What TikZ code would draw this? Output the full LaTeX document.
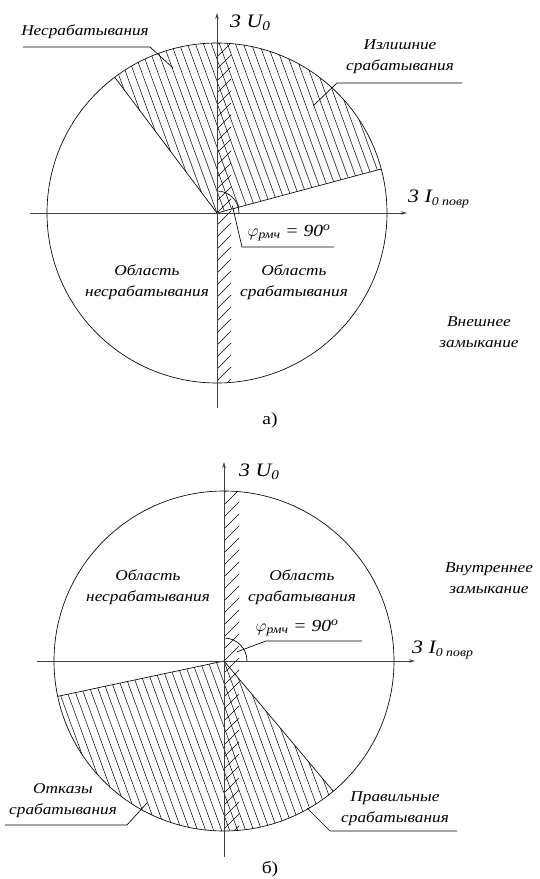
\documentclass[tikz,border=0pt]{standalone}
\usepackage{fontspec}
\setmainfont{Liberation Serif}[FakeStretch=1.15]
\usetikzlibrary{arrows.meta, positioning}

\begin{document}
\begin{tikzpicture}[
    x=1pt, y=1pt,
    axis/.style = {draw=black!75, line width=0.9pt, -{Stealth[length=6pt, width=3.5pt]}},
    ring/.style = {draw=black, line width=0.65pt},
    hatch/.style = {draw=black, line width=0.5pt},
    leader/.style = {draw=black, line width=0.65pt},
    lbl/.style = {font=\fontsize{15}{21}\selectfont\itshape, align=center, inner sep=0pt},
    axlbl/.style = {font=\fontsize{19}{21}\selectfont\itshape, anchor=west, inner sep=0pt},
    anglbl/.style = {font=\fontsize{17}{19}\selectfont\itshape, inner sep=0pt},
    caption/.style = {font=\fontsize{17}{19}\selectfont, inner sep=0pt}
]
\useasboundingbox (0,0) rectangle (540,879);

% Diagram a)
\coordinate (O1) at (217,666);

% hatched sector
\begin{scope}
  \clip (O1) -- ++(15:170) arc[start angle=15, end angle=127, radius=170] -- cycle;
  \foreach \k in {-8,...,24}
    \draw [hatch] (O1) ++(\k*8,0) ++(110:220) -- ++(-70:440);
\end{scope}
% strip along the axis
\begin{scope}
  \clip (O1) circle[radius=170];
  \clip (O1) ++(0,-170) rectangle ++(14,340);
  \foreach \k in {-15,...,15}
    \draw [hatch] (O1) ++(0,\k*12) -- ++(16,16);
\end{scope}

\draw [ring] (O1) circle[radius=170];
\draw [ring] (O1) -- ++(15:170);
\draw [ring] (O1) -- ++(127:170);
\draw [ring] (O1) ++(22,0) arc[start angle=0, end angle=90, radius=22];

\coordinate (a1b) at (217,471);
\coordinate (a1t) at (217,866);
\coordinate (a1l) at (30,666);
\coordinate (a1r) at (407,666);
\draw [axis] (a1b) -- (a1t);
\draw [axis] (a1l) -- (a1r);

\node (u1) [axlbl] at (230,856) {3 U\textsubscript{0}};
\node (i1) [axlbl] at (408,680) {3 I\textsubscript{\fontsize{12}{12}\selectfont 0 повр}};

\node (ns1) [lbl] at (85,847) {Несрабатывания};
\coordinate (ns1a) at (23,832);
\coordinate (ns1b) at (150,832);
\coordinate (ns1c) at (173,811);
\draw [leader] (ns1a) -- (ns1b) -- (ns1c);

\node (iz1) [lbl] at (400,822) {Излишние\\срабатывания};
\coordinate (iz1a) at (462,796);
\coordinate (iz1b) at (337,796);
\coordinate (iz1c) at (313,773);
\draw [leader] (iz1a) -- (iz1b) -- (iz1c);

\node (phi1) [anglbl] at (289,646) {$\varphi$\textsubscript{рмч} = 90\textsuperscript{o}};
\path (O1) ++(25:17) coordinate (phi1a);
\coordinate (phi1b) at (242,632);
\coordinate (phi1c) at (334,632);
\draw [leader] (phi1a) -- (phi1b) -- (phi1c);

\node (off1) [lbl] at (147,597) {Область\\несрабатывания};
\node (on1) [lbl] at (294,597) {Область\\срабатывания};
\node (ext1) [lbl] at (479,547) {Внешнее\\замыкание};
\node (cap1) [caption] at (270,459) {а)};

% Diagram b)
\coordinate (O2) at (224,218);

% hatched sector
\begin{scope}
  \clip (O2) -- ++(192:170) arc[start angle=192, end angle=310, radius=170] -- cycle;
  \foreach \k in {-24,...,9}
    \draw [hatch] (O2) ++(\k*8,0) ++(110:220) -- ++(-70:440);
\end{scope}
% strip along the axis
\begin{scope}
  \clip (O2) circle[radius=170];
  \clip (O2) ++(0,-170) rectangle ++(15,340);
  \foreach \k in {-15,...,15}
    \draw [hatch] (O2) ++(0,\k*12) -- ++(16,16);
\end{scope}

\draw [ring] (O2) circle[radius=170];
\draw [ring] (O2) -- ++(192:170);
\draw [ring] (O2) -- ++(310:170);
\draw [ring] (O2) ++(23,0) arc[start angle=0, end angle=90, radius=23];

\coordinate (a2b) at (224,22);
\coordinate (a2t) at (224,417);
\coordinate (a2l) at (37,218);
\coordinate (a2r) at (415,218);
\draw [axis] (a2b) -- (a2t);
\draw [axis] (a2l) -- (a2r);

\node (u2) [axlbl] at (239,407) {3 U\textsubscript{0}};
\node (i2) [axlbl] at (412,229) {3 I\textsubscript{\fontsize{12}{12}\selectfont 0 повр}};

\node (off2) [lbl] at (148,292) {Область\\несрабатывания};
\node (on2) [lbl] at (302,292) {Область\\срабатывания};
\node (int2) [lbl] at (489,301) {Внутреннее\\замыкание};

\node (phi2) [anglbl] at (297,251) {$\varphi$\textsubscript{рмч} = 90\textsuperscript{o}};
\path (O2) ++(35:16) coordinate (phi2a);
\coordinate (phi2b) at (266,238);
\coordinate (phi2c) at (362,238);
\draw [leader] (phi2a) -- (phi2b) -- (phi2c);

\node (ref2) [lbl] at (63,78) {Отказы\\срабатывания};
\coordinate (ref2a) at (5,54);
\coordinate (ref2b) at (127,54);
\coordinate (ref2c) at (147,76);
\draw [leader] (ref2a) -- (ref2b) -- (ref2c);

\node (ok2) [lbl] at (395,70) {Правильные\\срабатывания};
\coordinate (ok2a) at (457,48);
\coordinate (ok2b) at (330,48);
\coordinate (ok2c) at (307,71);
\draw [leader] (ok2a) -- (ok2b) -- (ok2c);

\node (cap2) [caption] at (270,10) {б)};

\end{tikzpicture}
\end{document}
